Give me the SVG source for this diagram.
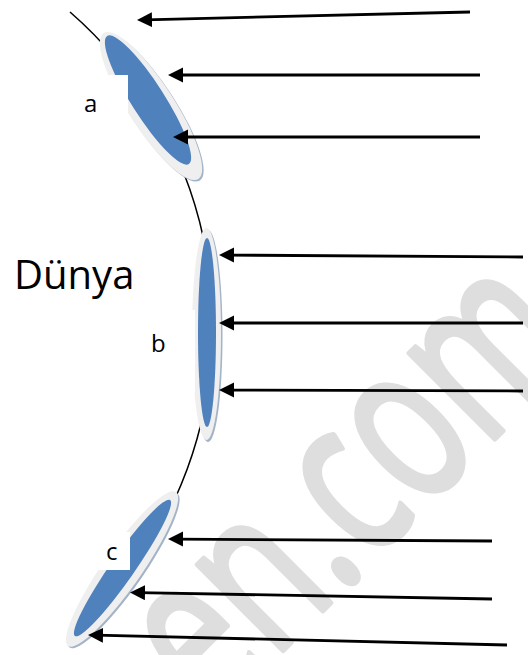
<svg xmlns="http://www.w3.org/2000/svg" width="528" height="655" viewBox="0 0 528 655">
  <defs>
    <marker id="ah" markerUnits="userSpaceOnUse" markerWidth="16" markerHeight="16" refX="7" refY="7.5" orient="auto">
      <path d="M0,0 L15,7.5 L0,15 z" fill="#000"/>
    </marker>
  </defs>
  <style>
    .arr { stroke:#000; stroke-width:2.8; fill:none; marker-end:url(#ah); }
    .shadow { fill:#a3b3c9; }
    .rim { fill:#efefef; }
    .core { fill:#4f81bd; }
    .lbl { font-family:"Open Sans","DejaVu Sans",sans-serif; fill:#000; }
    .box { fill:#fff; }
    .wm { font-family:"Open Sans","DejaVu Sans",sans-serif; fill:#dedede; stroke:#dedede; stroke-width:6; stroke-linejoin:round; stroke-linecap:round; }
  </style>
  <rect width="528" height="655" fill="#fff"/>
  <text class="wm" font-size="225" transform="translate(212.6,720.6) rotate(-45) scale(0.68,1)">en.com</text>

  <g id="earth">
    <path d="M70,12 A415.8,415.8 0 0 1 174.4,500" fill="none" stroke="#000" stroke-width="1.5"/>
  </g>

  <g id="dunya">
    <text class="lbl" x="14" y="289" font-size="40">Dünya</text>
  </g>

  <g id="node-a">
    <ellipse class="shadow" cx="152.5" cy="107.5" rx="87" ry="23" transform="rotate(57 152.5 107.5)"/>
    <ellipse class="rim" cx="151" cy="106" rx="87" ry="23" transform="rotate(57 151 106)"/>
    <ellipse class="core" cx="148" cy="100" rx="76" ry="16.5" transform="rotate(57.5 148 100)"/>
    <rect class="box" x="40" y="75" width="88" height="45"/>
    <text class="lbl" x="84" y="111.5" font-size="24">a</text>
  </g>

  <g id="node-b">
    <ellipse class="shadow" cx="208" cy="336" rx="14.5" ry="106"/>
    <ellipse class="rim" cx="206.5" cy="334" rx="14.5" ry="106"/>
    <ellipse class="core" cx="207" cy="332.5" rx="9" ry="94.5"/>
    <rect class="box" x="140" y="310" width="55" height="83"/>
    <text class="lbl" x="151" y="351.5" font-size="24">b</text>
  </g>

  <g id="node-c">
    <ellipse class="shadow" cx="123.5" cy="570.5" rx="94" ry="19" transform="rotate(-55 123.5 570.5)"/>
    <ellipse class="rim" cx="122" cy="569" rx="94" ry="19" transform="rotate(-55 122 569)"/>
    <ellipse class="core" cx="122.5" cy="568" rx="83" ry="12" transform="rotate(-55 122.5 568)"/>
    <rect class="box" x="60" y="532" width="70" height="38"/>
    <text class="lbl" x="106" y="560" font-size="24">c</text>
  </g>

  <g id="connectors">
    <line class="arr" x1="470" y1="12" x2="145" y2="19.8"/>
    <line class="arr" x1="480" y1="75" x2="176" y2="75"/>
    <line class="arr" x1="480" y1="137" x2="181" y2="137"/>
    <line class="arr" x1="523" y1="257" x2="227" y2="255.05"/>
    <line class="arr" x1="523" y1="323" x2="227" y2="323"/>
    <line class="arr" x1="523" y1="391" x2="227" y2="390.03"/>
    <line class="arr" x1="492" y1="541" x2="176" y2="539.05"/>
    <line class="arr" x1="492" y1="599" x2="138" y2="592.6"/>
    <line class="arr" x1="507" y1="645" x2="96" y2="635.2"/>
  </g>
</svg>
